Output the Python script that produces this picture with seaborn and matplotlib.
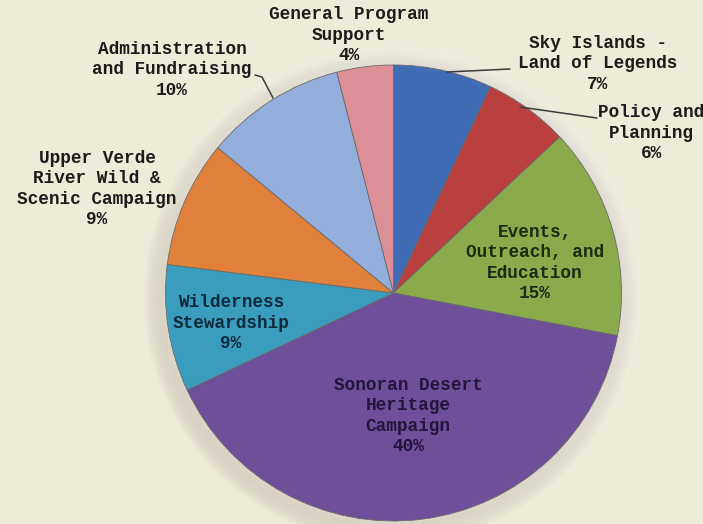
import matplotlib
matplotlib.use("Agg")
import matplotlib.pyplot as plt
import seaborn as sns
import numpy as np
from matplotlib.patches import Circle

categories = ["Sky Islands -\nLand of Legends", "Policy and\nPlanning",
              "Events,\nOutreach, and\nEducation", "Sonoran Desert\nHeritage\nCampaign",
              "Wilderness\nStewardship", "Upper Verde\nRiver Wild &\nScenic Campaign",
              "Administration\nand Fundraising", "General Program\nSupport"]
values = [7, 6, 15, 40, 9, 9, 10, 4]
colors = ["#3F6CB4", "#B9403F", "#8BAA4B", "#6E4F99", "#3A9DBD", "#E1803A", "#94AEDC", "#DC8F96"]

sns.set_style("white")
plt.rcParams['font.family'] = ['Liberation Mono', 'DejaVu Sans Mono']

W, H = 703, 524
BG = "#EFEBD9"
fig = plt.figure(figsize=(W / 100, H / 100), dpi=100, facecolor=BG)
ax = fig.add_axes([0, 0, 1, 1])
ax.set_facecolor(BG)

cx, cy, R = 393.5, 293.0, 228.0  # pixel center and radius


def px(x, y):
    return ((x - cx) / R, (cy - y) / R)


# soft halo / shadow around pie
for i in range(14):
    r = 1 + (14 - i) * 0.006
    ax.add_patch(Circle((-0.012, -0.02), r, color="#8a7a5a", alpha=0.025, lw=0, zorder=0))
for i in range(10):
    r = 1 + (10 - i) * 0.009
    ax.add_patch(Circle((0.01, 0.01), r, color="#ffffff", alpha=0.05, lw=0, zorder=0))

pal = sns.color_palette(colors)
wedges, _ = ax.pie(values, colors=pal, startangle=90, counterclock=False, radius=1,
                   wedgeprops=dict(linewidth=0.6, edgecolor="#6a6a6a"))
for w in wedges:
    w.set_zorder(2)

ax.set_aspect("equal")
ax.set_xlim(-cx / R, (W - cx) / R)
ax.set_ylim(-(H - cy) / R, cy / R)
ax.axis("off")

# label positions (pixel centers) and colors
label_pos = [(598, 64), (651, 133), (535, 263), (408, 416), (231, 323), (97, 189), (172, 70), (349, 35)]
label_col = ["#1c1c1c", "#1c1c1c", "#1e2a14", "#22163a", "#0f2a3a", "#1c1c1c", "#1c1c1c", "#1c1c1c"]
for cat, v, (x, y), c in zip(categories, values, label_pos, label_col):
    ax.text(*px(x, y), f"{cat}\n{v}%", ha="center", va="center", fontsize=12.8,
            fontweight="bold", color=c, linespacing=1.27, zorder=5)

# leader lines
lines = [[(447, 72), (510, 69)],
         [(520, 107), (597, 118)],
         [(255, 75), (262, 77), (273, 98)]]
for ln in lines:
    xs, ys = zip(*[px(a, b) for a, b in ln])
    ax.plot(xs, ys, color="#3a3a3a", lw=1.1, zorder=4)

fig.savefig("out.png", dpi=100, facecolor=BG)
